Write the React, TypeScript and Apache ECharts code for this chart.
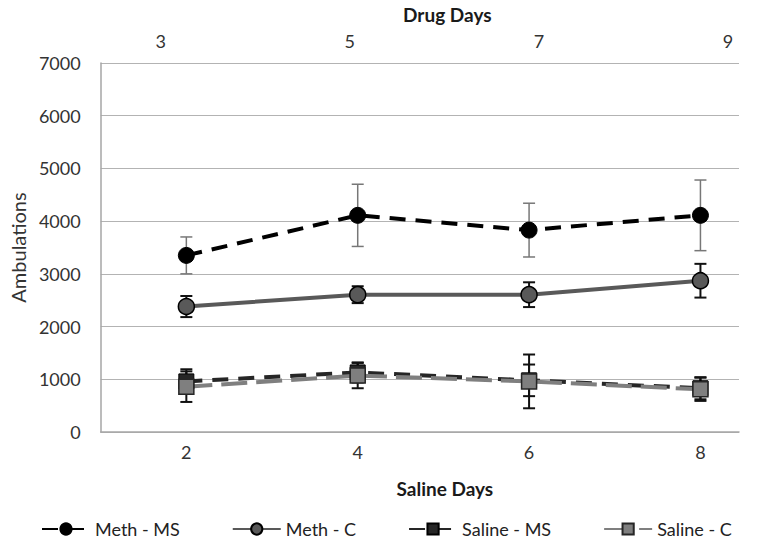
import React, { useEffect, useRef } from "react";
import * as echarts from "echarts";

const salineDays = [2, 4, 6, 8];
const drugDayTicks = [3, 5, 7, 9];
const salineDayTicks = [2, 4, 6, 8];

const methMS = [3350, 4110, 3830, 4110];
const methMSErr = [350, 590, 510, 670];
const methC = [2380, 2605, 2605, 2870];
const methCErr = [200, 160, 235, 320];
const salineMS = [960, 1130, 980, 830];
const salineMSErr = [230, 190, 300, 210];
const salineC = [860, 1070, 960, 810];
const salineCErr = [290, 240, 510, 220];

const FONT = "Lato";

function pairs(vals: number[]) {
  return salineDays.map((d, i) => [d, vals[i]]);
}
function errData(vals: number[], errs: number[]) {
  return salineDays.map((d, i) => [d, vals[i] - errs[i], vals[i] + errs[i]]);
}

function errSeries(vals: number[], errs: number[], color: string, width: number) {
  return {
    type: "custom",
    xAxisIndex: 0,
    yAxisIndex: 0,
    z: 1,
    silent: true,
    encode: { x: 0, y: [1, 2] },
    data: errData(vals, errs),
    renderItem: (params: any, api: any) => {
      const x = api.value(0);
      const lo = api.coord([x, api.value(1)]);
      const hi = api.coord([x, api.value(2)]);
      const hw = 6;
      const style = { stroke: color, lineWidth: width };
      return {
        type: "group",
        children: [
          { type: "line", shape: { x1: lo[0], y1: lo[1], x2: hi[0], y2: hi[1] }, style },
          { type: "line", shape: { x1: lo[0] - hw, y1: lo[1], x2: lo[0] + hw, y2: lo[1] }, style },
          { type: "line", shape: { x1: hi[0] - hw, y1: hi[1], x2: hi[0] + hw, y2: hi[1] }, style },
        ],
      };
    },
  };
}

export default function App() {
  const ref = useRef<HTMLDivElement>(null);
  useEffect(() => {
    if (!ref.current) return;
    const chart = echarts.init(ref.current, undefined, { renderer: "svg" });
    chart.setOption({
      animation: false,
      backgroundColor: "#ffffff",
      textStyle: { fontFamily: FONT },
      grid: { left: 100, right: 18, top: 61, bottom: 117 },
      xAxis: [
        {
          type: "value",
          position: "bottom",
          min: 1,
          max: 8.45,
          name: "Saline Days",
          nameLocation: "middle",
          nameGap: 47,
          nameTextStyle: { fontFamily: FONT, fontSize: 19, fontWeight: "bold", color: "#1a1a1a", padding: [0, 0, 0, 50] },
          axisLine: { show: true, lineStyle: { color: "#a6a6a6", width: 1.5 } },
          axisTick: { show: false },
          splitLine: { show: false },
          axisLabel: {
            customValues: salineDayTicks,
            fontFamily: FONT,
            fontSize: 18,
            color: "#333333",
            margin: 11,
          },
        },
        {
          type: "value",
          position: "top",
          min: 2.366,
          max: 9.116,
          name: "Drug Days",
          nameLocation: "middle",
          nameGap: 39,
          nameTextStyle: { fontFamily: FONT, fontSize: 19, fontWeight: "bold", color: "#1a1a1a", padding: [0, 0, 0, 55] },
          axisLine: { show: false },
          axisTick: { show: false },
          splitLine: { show: false },
          axisLabel: {
            customValues: drugDayTicks,
            fontFamily: FONT,
            fontSize: 18,
            color: "#333333",
            margin: 13,
          },
        },
      ],
      yAxis: {
        type: "value",
        min: 0,
        max: 7000,
        interval: 1000,
        name: "Ambulations",
        nameLocation: "middle",
        nameGap: 70,
        nameTextStyle: { fontFamily: FONT, fontSize: 20, color: "#333333" },
        axisLine: { show: true, lineStyle: { color: "#a6a6a6", width: 1.5 } },
        axisTick: { show: false },
        splitLine: { show: true, lineStyle: { color: "#b3b3b3", width: 1.2 } },
        axisLabel: {
          fontFamily: FONT,
          fontSize: 18,
          color: "#333333",
          margin: 20,
          formatter: (v: number) => String(v),
        },
      },
      legend: {
        data: ["Meth - MS", "Meth - C", "Saline - MS", "Saline - C"],
        left: 36,
        bottom: 6,
        itemWidth: 48,
        itemHeight: 14,
        itemGap: 52,
        textStyle: { fontFamily: FONT, fontSize: 18, color: "#222222" },
      },
      series: [
        errSeries(methMS, methMSErr, "#777777", 1.5),
        errSeries(methC, methCErr, "#111111", 2),
        errSeries(salineMS, salineMSErr, "#111111", 2),
        errSeries(salineC, salineCErr, "#111111", 2),
        {
          name: "Meth - MS",
          type: "line",
          z: 3,
          data: pairs(methMS),
          symbol: "circle",
          symbolSize: 16,
          itemStyle: { color: "#000000", borderColor: "#000000", borderWidth: 1 },
          lineStyle: { color: "#000000", width: 4, type: [16, 10] },
        },
        {
          name: "Meth - C",
          type: "line",
          z: 3,
          data: pairs(methC),
          symbol: "circle",
          symbolSize: 16,
          itemStyle: { color: "#595959", borderColor: "#000000", borderWidth: 1.5 },
          lineStyle: { color: "#595959", width: 4 },
        },
        {
          name: "Saline - MS",
          type: "line",
          z: 3,
          data: pairs(salineMS),
          symbol: "rect",
          symbolSize: 15,
          itemStyle: { color: "#262626", borderColor: "#000000", borderWidth: 1 },
          lineStyle: { color: "#262626", width: 4, type: [16, 10] },
        },
        {
          name: "Saline - C",
          type: "line",
          z: 3,
          data: pairs(salineC),
          symbol: "rect",
          symbolSize: 15,
          itemStyle: { color: "#7f7f7f", borderColor: "#262626", borderWidth: 1.5 },
          lineStyle: { color: "#7f7f7f", width: 4, type: [26, 9] },
        },
      ],
    });
    return () => chart.dispose();
  }, []);
  return <div ref={ref} style={{ width: 757, height: 549, position: "absolute", left: 0, top: 0 }} />;
}
